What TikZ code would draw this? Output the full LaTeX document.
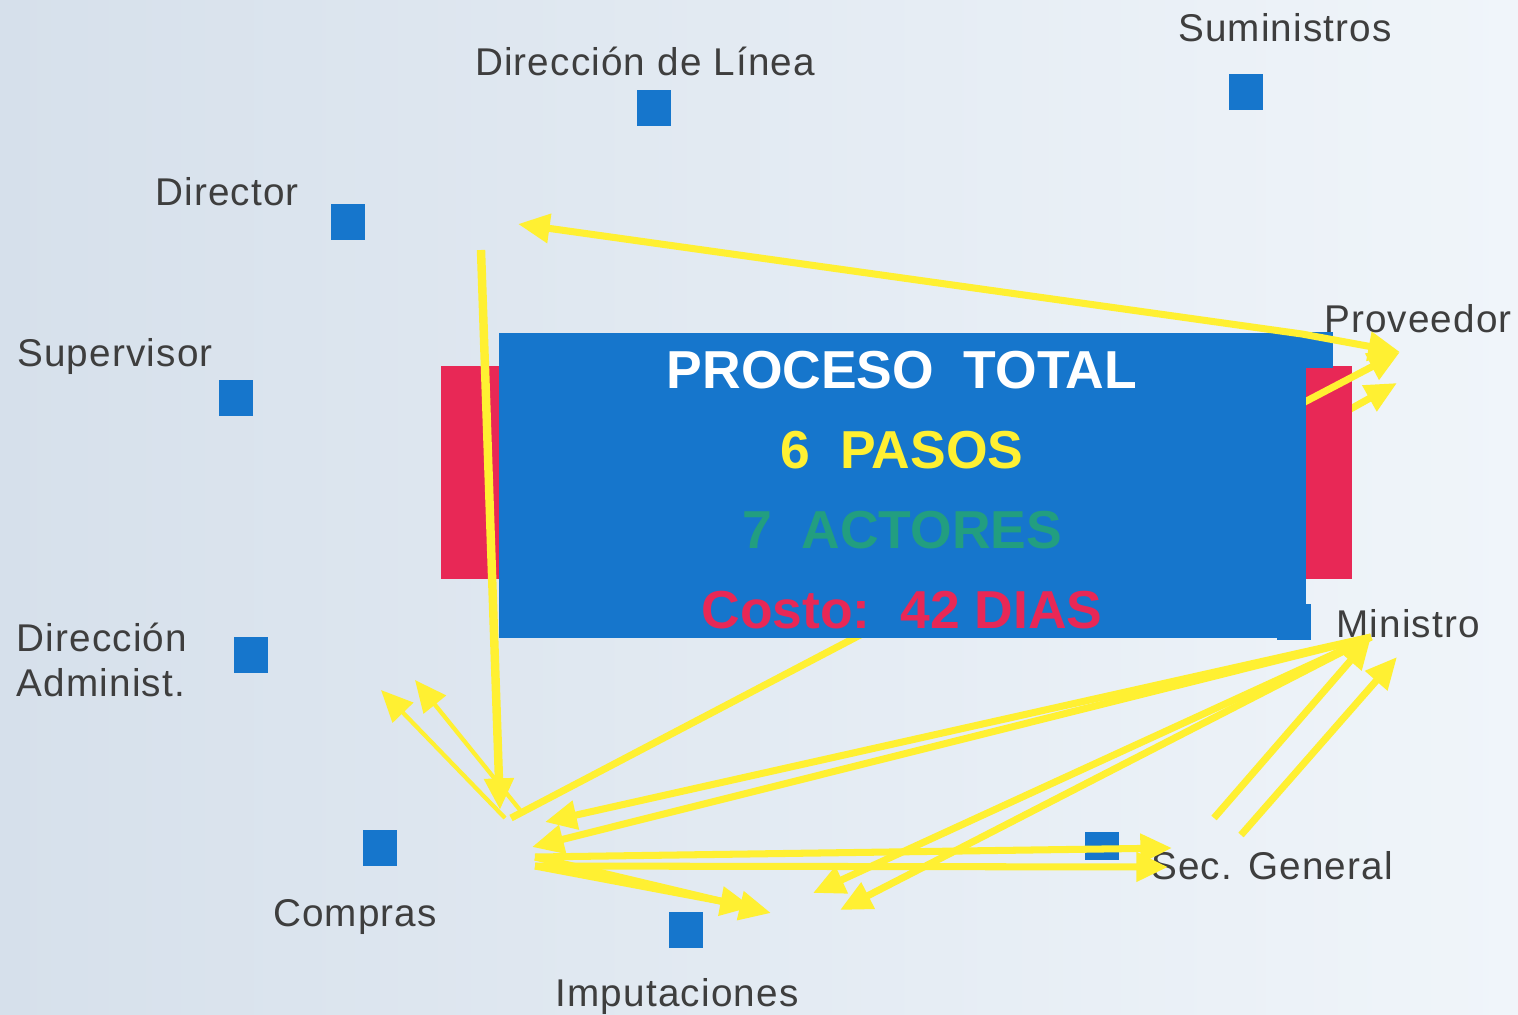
\documentclass[tikz,border=0pt]{standalone}
\usepackage{fontspec}
\setmainfont{Liberation Sans}
\newfontfamily\rotulo[LetterSpace=3]{Liberation Sans}
\usetikzlibrary{arrows.meta}
\definecolor{fondoA}{RGB}{214,224,235}
\definecolor{fondoB}{RGB}{240,245,250}
\definecolor{azul}{RGB}{22,118,204}
\definecolor{rojo}{RGB}{232,40,86}
\definecolor{amarillo}{RGB}{255,240,50}
\definecolor{verde}{RGB}{34,158,128}
\definecolor{gris}{RGB}{62,62,62}
\tikzset{%
	actor/.style={
		text=gris,
		font=\rotulo\fontsize{11}{13}\selectfont,
		inner sep=0pt,
		anchor=base
	},
	marca/.style={
		fill=azul,
		minimum width=0.34cm,
		minimum height=0.36cm,
		inner sep=0pt
	},
	flecha/.style={
		draw=amarillo,
		line width=2pt,
		-{Triangle[length=9pt,width=8pt]}
	},
	flecha fina/.style={
		flecha,
		line width=1.2pt
	},
	titulo/.style={
		font=\bfseries\fontsize{15.2}{17}\selectfont,
		inner sep=0pt,
		anchor=base
	},
}

\begin{document}
\begin{tikzpicture}[x=0.01cm, y=-0.01cm]
	
	\shade[left color=fondoA, right color=fondoB] (0,0) rectangle (1518,1014);
	\useasboundingbox (0,0) rectangle (1518,1014);
	
	\node[actor] (tLinea) at (645,75) {Dirección de Línea};
	\node[marca] (mLinea) at (654,108) {};
	\node[actor] (tSum) at (1285,41) {Suministros};
	\node[marca] (mSum) at (1246,92) {};
	\node[actor] (tDir) at (227,205) {Director};
	\node[marca] (mDir) at (348,222) {};
	\node[actor] (tSup) at (115,366) {Supervisor};
	\node[marca] (mSup) at (236,398) {};
	\node[actor, anchor=base west] (tAdm1) at (16,651) {Dirección};
	\node[actor, anchor=base west] (tAdm2) at (16,696) {Administ.};
	\node[marca] (mAdm) at (251,655) {};
	\node[marca] (mCom) at (380,848) {};
	\node[actor] (tCom) at (355,926) {Compras};
	\node[marca] (mImp) at (686,930) {};
	\node[actor] (tImp) at (677,1006) {Imputaciones};
	\node[marca, minimum height=0.28cm] (mSec) at (1102,846) {};
	\node[actor] (tSec) at (1272,879) {Sec. General};
	\node[actor] (tProv) at (1418,332) {Proveedor};
	\node[actor] (tMin) at (1408,637) {Ministro};
	
	\coordinate (cProv1) at (1400,352);
	\coordinate (cProv2) at (1397,383);
	\coordinate (cProvR) at (1320,426);
	\coordinate (cEsq) at (1302,334);
	\coordinate (cDir) at (518,224);
	\coordinate (cDirV) at (481,250);
	\coordinate (cHubV) at (500,810);
	\coordinate (cAdm1) at (381,690);
	\coordinate (cAdm2) at (415,680);
	\coordinate (cHub1) at (505,818);
	\coordinate (cHub2) at (520,810);
	\coordinate (cHub3) at (511,818);
	\coordinate (cMin1) at (1371,637);
	\coordinate (cMin2) at (1397,657);
	\coordinate (cHubM1) at (545,822);
	\coordinate (cHubM2) at (532,847);
	\coordinate (cImpM1) at (813,893);
	\coordinate (cImpM2) at (840,910);
	\coordinate (cSec1) at (1214,818);
	\coordinate (cSec2) at (1241,835);
	\coordinate (cHubS1) at (535,857);
	\coordinate (cHubS2) at (535,866);
	\coordinate (cSecH1) at (1172,848);
	\coordinate (cSecH2) at (1168,867);
	\coordinate (cImp1) at (771,913);
	\coordinate (cImp2) at (752,907);
	
	\draw[flecha] (cProvR) -- (cProv2);
	\node[fill=rojo, minimum width=9.11cm, minimum height=2.13cm, inner sep=0pt] (rojo) at (896.5,472.5) {};
	\draw[flecha] (cHub3) -- (cProv1);
	\node[marca] (mProv) at (1316,350) {};
	\node[marca] (mMin) at (1294,622) {};
	\node[fill=azul, minimum width=8.07cm, minimum height=3.05cm, inner sep=0pt] (caja) at (902.5,485.5) {};
	
	\node[titulo, text=white] (tProc) at (902,388) {PROCESO\ \ TOTAL};
	\node[titulo, text=amarillo] (tPasos) at (902,468) {6\ \ PASOS};
	\node[titulo, text=verde] (tAct) at (902,548) {7\ \ ACTORES};
	\node[titulo, text=rojo] (tCosto) at (902,628) {Costo:\ \ 42 DIAS};
	
	\draw[flecha, {Triangle[length=9pt,width=8pt]}-{Triangle[length=9pt,width=8pt]}] (cDir) -- (cEsq) -- (cProv1);
	\draw[flecha, line width=2.4pt] (cDirV) -- (cHubV);
	\draw[flecha fina] (cHub1) -- (cAdm1);
	\draw[flecha fina] (cHub2) -- (cAdm2);
	
	\draw[flecha] (cMin1) -- (cHubM1);
	\draw[flecha] (cMin1) -- (cHubM2);
	\draw[flecha] (cMin1) -- (cImpM1);
	\draw[flecha] (cMin1) -- (cImpM2);
	\draw[flecha] (cSec1) -- (cMin1);
	\draw[flecha] (cSec2) -- (cMin2);
	
	\draw[flecha] (cHubS1) -- (cSecH1);
	\draw[flecha] (cHubS2) -- (cSecH2);
	\draw[flecha] (cHubS1) -- (cImp1);
	\draw[flecha] (cHubS2) -- (cImp2);
\end{tikzpicture}
\end{document}
